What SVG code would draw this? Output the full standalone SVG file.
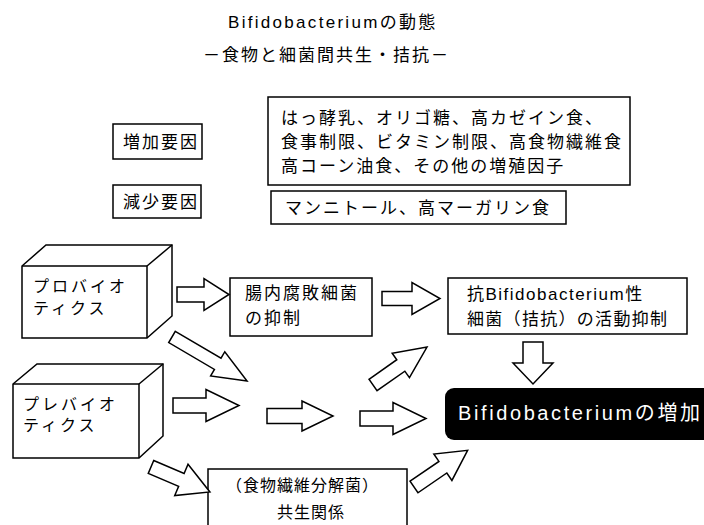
<svg xmlns="http://www.w3.org/2000/svg" width="704" height="525" viewBox="0 0 704 525">
<style>
text{font-family:"Liberation Sans","Noto Sans CJK JP",sans-serif;fill:#000}
.t{font-size:17px;letter-spacing:2px}
.box{fill:#fff;stroke:#000;stroke-width:1.5}
.arr{fill:#fff;stroke:#000;stroke-width:1.5;stroke-linejoin:miter}
</style>
<rect width="704" height="525" fill="#fff"/>
<g id="title">
<text x="228" y="28" style="font-size:17px;letter-spacing:2.3px">Bifidobacteriumの動態</text>
<text x="203" y="61" style="font-size:17px;letter-spacing:2px">－食物と細菌間共生・拮抗－</text>
</g>
<g id="increase-label">
<rect class="box" x="113" y="124" width="89" height="35"/>
<text class="t" x="123" y="148">増加要因</text>
</g>
<g id="increase-factors">
<rect class="box" x="268" y="97" width="362" height="88"/>
<text class="t" x="281" y="124">はっ酵乳、オリゴ糖、高カゼイン食、</text>
<text class="t" x="281" y="148">食事制限、ビタミン制限、高食物繊維食</text>
<text class="t" x="281" y="172">高コーン油食、その他の増殖因子</text>
</g>
<g id="decrease-label">
<rect class="box" x="113" y="185" width="88" height="33"/>
<text class="t" x="123" y="208">減少要因</text>
</g>
<g id="decrease-factors">
<rect class="box" x="271" y="191" width="295" height="33"/>
<text class="t" x="285" y="214">マンニトール、高マーガリン食</text>
</g>
<g id="probiotics">
<polygon class="box" points="22,266 46,245 172,245 172,316 147,338 22,338"/>
<polyline fill="none" stroke="#000" stroke-width="1.5" points="147,338 147,266 22,266"/>
<line x1="147" y1="266" x2="172" y2="245" stroke="#000" stroke-width="1.5"/>
<text x="33" y="292" style="font-size:16px;letter-spacing:3px">プロバイオ</text>
<text x="33" y="314" style="font-size:16px;letter-spacing:3px">ティクス</text>
</g>
<g id="prebiotics">
<polygon class="box" points="13,384 37,364 163,364 163,436 139,458 13,458"/>
<polyline fill="none" stroke="#000" stroke-width="1.5" points="139,458 139,384 13,384"/>
<line x1="139" y1="384" x2="163" y2="364" stroke="#000" stroke-width="1.5"/>
<text x="23" y="410" style="font-size:16px;letter-spacing:3px">プレバイオ</text>
<text x="23" y="431" style="font-size:16px;letter-spacing:3px">ティクス</text>
</g>
<g id="putrefactive">
<rect class="box" x="230" y="278" width="142" height="58"/>
<text class="t" x="245" y="299">腸内腐敗細菌</text>
<text class="t" x="245" y="324">の抑制</text>
</g>
<g id="antagonist">
<rect class="box" x="448" y="278" width="239" height="56"/>
<text x="467" y="300" style="font-size:17px;letter-spacing:1.5px">抗Bifidobacterium性</text>
<text x="467" y="325" style="font-size:17px;letter-spacing:1.3px">細菌（拮抗）の活動抑制</text>
</g>
<g id="increase">
<rect x="445" y="388" width="275" height="52" rx="9" fill="#000"/>
<text x="458" y="420" style="font-size:20px;letter-spacing:2.6px;fill:#fff">Bifidobacteriumの増加</text>
</g>
<g id="symbiosis">
<rect class="box" x="208" y="469" width="199" height="70"/>
<text x="226" y="491" style="font-size:16px;letter-spacing:1px">（食物繊維分解菌）</text>
<text x="277" y="518" style="font-size:16px;letter-spacing:1px">共生関係</text>
</g>
<g id="connectors">
<polygon class="arr" transform="translate(177,294.5)" points="0,-7.5 27,-7.5 27,-16 52,0 27,16 27,7.5 0,7.5"/>
<polygon class="arr" transform="translate(382,298.5)" points="0,-7 30,-7 30,-16 58,0 30,16 30,7 0,7"/>
<polygon class="arr" transform="translate(533,342) rotate(90)" points="0,-10 21,-10 21,-20 42,0 21,20 21,10 0,10"/>
<polygon class="arr" transform="translate(172,337) rotate(30.4)" points="0,-6.5 53,-6.5 53,-14 87,0 53,14 53,6.5 0,6.5"/>
<polygon class="arr" transform="translate(173,405.5)" points="0,-7.5 33,-7.5 33,-16 66,0 33,16 33,7.5 0,7.5"/>
<polygon class="arr" transform="translate(267,416)" points="0,-7.5 35,-7.5 35,-15 66,0 35,15 35,7.5 0,7.5"/>
<polygon class="arr" transform="translate(360,418.5)" points="0,-7.5 33,-7.5 33,-16 66,0 33,16 33,7.5 0,7.5"/>
<polygon class="arr" transform="translate(373,385) rotate(-35.1)" points="0,-7 34,-7 34,-15 66,0 34,15 34,7 0,7"/>
<polygon class="arr" transform="translate(151,467) rotate(23)" points="0,-7 33,-7 33,-17 64,0 33,17 33,7 0,7"/>
<polygon class="arr" transform="translate(414,487) rotate(-34.4)" points="0,-7 35,-7 35,-16 65,0 35,16 35,7 0,7"/>
</g>
</svg>
